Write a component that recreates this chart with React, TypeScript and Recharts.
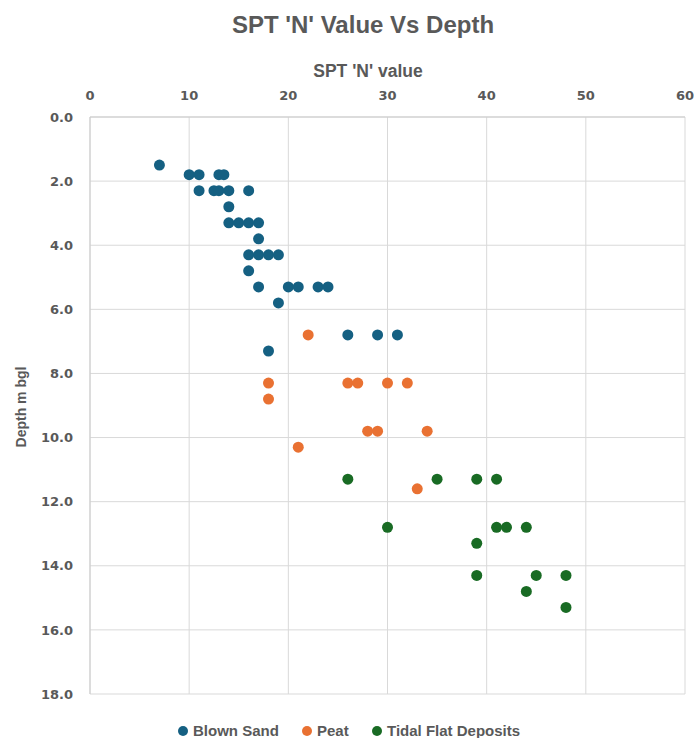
import { ScatterChart, Scatter, XAxis, YAxis, CartesianGrid } from 'recharts'

const TEXT_GREY = '#595959'
const GRID_GREY = '#d9d9d9'
const AXIS_GREY = '#cccccc'

const SERIES_NAMES = ['Blown Sand', 'Peat', 'Tidal Flat Deposits']
const SERIES_COLORS = ['#156082', '#E97132', '#196B24']

// SPT 'N' value (x) and depth in m bgl (y) per layer
const blownSandN = [7, 10, 11, 13, 13.5, 11, 12.5, 13, 14, 16, 14, 14, 15, 16, 17, 17, 16, 17, 18, 19, 16, 17, 20, 21, 23, 24, 19, 26, 29, 31, 18]
const blownSandDepth = [1.5, 1.8, 1.8, 1.8, 1.8, 2.3, 2.3, 2.3, 2.3, 2.3, 2.8, 3.3, 3.3, 3.3, 3.3, 3.8, 4.3, 4.3, 4.3, 4.3, 4.8, 5.3, 5.3, 5.3, 5.3, 5.3, 5.8, 6.8, 6.8, 6.8, 7.3]

const peatN = [22, 18, 26, 27, 30, 32, 18, 28, 29, 34, 21, 33]
const peatDepth = [6.8, 8.3, 8.3, 8.3, 8.3, 8.3, 8.8, 9.8, 9.8, 9.8, 10.3, 11.6]

const tidalN = [26, 35, 39, 41, 30, 41, 42, 44, 39, 39, 45, 48, 44, 48]
const tidalDepth = [11.3, 11.3, 11.3, 11.3, 12.8, 12.8, 12.8, 12.8, 13.3, 14.3, 14.3, 14.3, 14.8, 15.3]

const xTicks = [0, 10, 20, 30, 40, 50, 60]
const yTicks = [0, 2, 4, 6, 8, 10, 12, 14, 16, 18]

const toPoints = (n: number[], depth: number[]) => n.map((v, i) => ({ n: v, depth: depth[i] }))

const seriesData = [
  toPoints(blownSandN, blownSandDepth),
  toPoints(peatN, peatDepth),
  toPoints(tidalN, tidalDepth),
]

// legend item x positions (marker centre)
const legendX = [183, 307, 377]

const tickStyle = { fontFamily: 'DejaVu Sans', fontWeight: 700, fontSize: 13, fill: TEXT_GREY }

export default function App() {
  return (
    <div style={{ position: 'absolute', left: 0, top: 0, width: 694, height: 738, background: '#fff' }}>
      <ScatterChart width={694} height={738} margin={{ top: 87, right: 9, bottom: 44, left: 30 }}>
        <CartesianGrid stroke={GRID_GREY} />
        <XAxis
          dataKey="n"
          type="number"
          orientation="top"
          domain={[0, 60]}
          ticks={xTicks}
          height={30}
          tick={tickStyle}
          tickSize={0}
          tickMargin={17}
          axisLine={{ stroke: AXIS_GREY }}
          tickLine={false}
        />
        <YAxis
          dataKey="depth"
          type="number"
          domain={[0, 18]}
          reversed
          ticks={yTicks}
          width={60}
          tick={tickStyle}
          tickSize={0}
          tickMargin={17}
          tickFormatter={(v: number) => v.toFixed(1)}
          axisLine={{ stroke: AXIS_GREY }}
          tickLine={false}
        />
        {seriesData.map((data, i) => (
          <Scatter
            key={SERIES_NAMES[i]}
            name={SERIES_NAMES[i]}
            data={data}
            fill={SERIES_COLORS[i]}
            isAnimationActive={false}
            shape={(p: any) => <circle cx={p.cx} cy={p.cy} r={5.5} fill={SERIES_COLORS[i]} />}
          />
        ))}
      </ScatterChart>
      <svg
        width={694}
        height={738}
        style={{ position: 'absolute', left: 0, top: 0, pointerEvents: 'none' }}
        fontFamily="'Liberation Sans', Arial, sans-serif"
        fontWeight={700}
        fill={TEXT_GREY}
      >
        <text x={363} y={33} fontSize={24} textAnchor="middle">SPT 'N' Value Vs Depth</text>
        <text x={368} y={77} fontSize={17.5} textAnchor="middle">SPT 'N' value</text>
        <text x={0} y={0} fontSize={14} textAnchor="middle" transform="translate(26 407) rotate(-90)">
          Depth m bgl
        </text>
        {SERIES_NAMES.map((name, i) => (
          <g key={name}>
            <circle cx={legendX[i]} cy={731} r={5} fill={SERIES_COLORS[i]} />
            <text x={legendX[i] + 10} y={736} fontSize={15}>{name}</text>
          </g>
        ))}
      </svg>
    </div>
  )
}
